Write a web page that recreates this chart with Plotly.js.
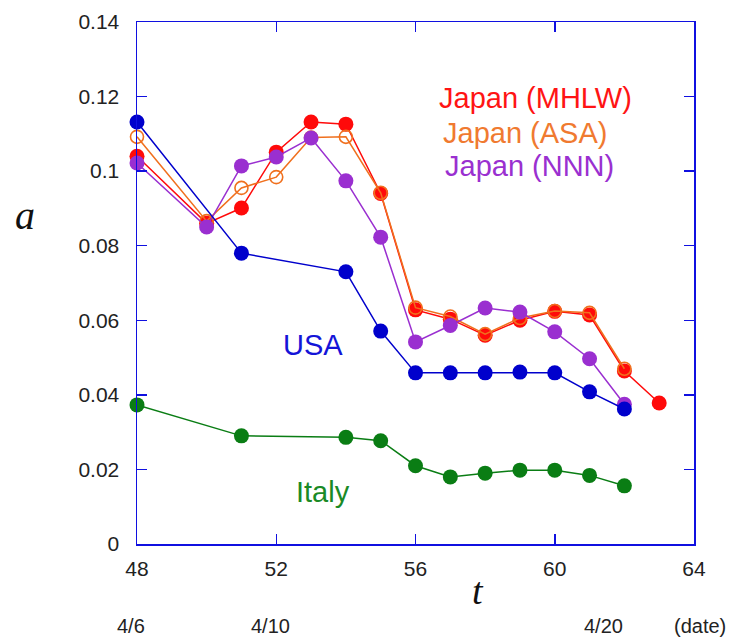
<!DOCTYPE html>
<html>
<head>
<meta charset="utf-8">
<script src="https://cdn.plot.ly/plotly-3.0.1.min.js"></script>
<style>html,body{margin:0;padding:0;background:#fff;} #chart{width:734px;height:639px;}</style>
</head>
<body>
<div id="chart"></div>
<script>
// Data (t = day index, a = value)
const usaT = [48, 51, 54, 55, 56, 57, 58, 59, 60, 61, 62];
const usaA = [0.1132, 0.0780, 0.0730, 0.0571, 0.0459, 0.0459, 0.0459, 0.0461, 0.0459, 0.0408, 0.0362];

const italyT = [48, 51, 54, 55, 56, 57, 58, 59, 60, 61, 62];
const italyA = [0.0373, 0.0290, 0.0286, 0.0277, 0.0210, 0.0180, 0.0190, 0.0198, 0.0198, 0.0184, 0.0156];

const mhlwT = [48, 50, 51, 52, 53, 54, 55, 56, 57, 58, 59, 60, 61, 62, 63];
const mhlwA = [0.1040, 0.0860, 0.0901, 0.1051, 0.1132, 0.1126, 0.0940, 0.0628, 0.0603, 0.0560, 0.0600, 0.0624, 0.0614, 0.0464, 0.0378];

const asaT = [48, 50, 51, 52, 53, 54, 55, 56, 57, 58, 59, 60, 61, 62];
const asaA = [0.1092, 0.0866, 0.0955, 0.0984, 0.1090, 0.1092, 0.0942, 0.0634, 0.0610, 0.0563, 0.0606, 0.0625, 0.0620, 0.0470];

const nnnT = [48, 50, 51, 52, 53, 54, 55, 56, 57, 58, 59, 60, 61, 62];
const nnnA = [0.1022, 0.0850, 0.1014, 0.1038, 0.1089, 0.0974, 0.0823, 0.0542, 0.0586, 0.0633, 0.0622, 0.0569, 0.0497, 0.0375];

const xTicks = [48, 52, 56, 60, 64];
const yTicks = [0, 0.02, 0.04, 0.06, 0.08, 0.1, 0.12, 0.14];
const yTickText = ['0', '0.02', '0.04', '0.06', '0.08', '0.1', '0.12', '0.14'];

const dateLabels = ['4/6', '4/10', '4/20', '(date)'];
const datePos = [-0.011, 0.239, 0.837, 1.011];

const seriesLabels = ['Japan (MHLW)', 'Japan (ASA)', 'Japan (NNN)', 'USA', 'Italy'];

const C = {
  usa: '#0000cc', italy: '#0a7d14', mhlw: '#ff0a0a', asa: '#f0701e', nnn: '#9a2fd0'
};

function tr(x, y, color, open) {
  return {
    x: x, y: y, type: 'scatter', mode: 'lines+markers', cliponaxis: false,
    line: {color: color, width: 1.5},
    marker: open ? {symbol: 'circle-open', size: 13, color: color, line: {width: 1.6, color: color}}
                 : {symbol: 'circle', size: 15, color: color, line: {width: 0}},
    hoverinfo: 'skip'
  };
}

const data = [
  tr(italyT, italyA, C.italy, false),
  tr(mhlwT, mhlwA, C.mhlw, false),
  tr(asaT, asaA, C.asa, true),
  tr(nnnT, nnnA, C.nnn, false),
  tr(usaT, usaA, C.usa, false)
];

const tickFont = {family: 'Liberation Sans, Arial, sans-serif', size: 21, color: '#222'};
const labFont = (c) => ({family: 'Liberation Sans, Arial, sans-serif', size: 29, color: c});

const annotations = [
  {text: seriesLabels[0], x: 0.538, y: 0.854, xanchor: 'left', font: labFont('#ff1414')},
  {text: seriesLabels[1], x: 0.546, y: 0.788, xanchor: 'left', font: labFont('#f07a30')},
  {text: seriesLabels[2], x: 0.550, y: 0.724, xanchor: 'left', font: labFont('#9a30d0')},
  {text: seriesLabels[3], x: 0.316, y: 0.381, xanchor: 'center', font: labFont('#1414d8')},
  {text: seriesLabels[4], x: 0.334, y: 0.100, xanchor: 'center', font: labFont('#1a8a26')},
  {text: '<i>a</i>', x: -0.201, y: 0.630, xanchor: 'center', font: {family: 'Liberation Serif, Times New Roman, serif', size: 40, color: '#111'}},
  {text: '<i>t</i>', x: 0.612, y: -0.090, xanchor: 'center', font: {family: 'Liberation Serif, Times New Roman, serif', size: 38, color: '#111'}}
];
dateLabels.forEach((d, i) => annotations.push({
  text: d, x: datePos[i], y: -0.157, xanchor: 'center', font: {family: 'Liberation Sans, Arial, sans-serif', size: 20, color: '#222'}
}));
annotations.forEach(a => { a.xref = 'paper'; a.yref = 'paper'; a.yanchor = 'middle'; a.showarrow = false; });

const layout = {
  width: 734, height: 639,
  margin: {l: 137, r: 40, t: 22, b: 95},
  paper_bgcolor: '#fff', plot_bgcolor: '#fff',
  showlegend: false,
  xaxis: {
    range: [48, 64], tickvals: xTicks, ticktext: xTicks.map(String),
    showgrid: false, zeroline: false, showline: true, mirror: 'ticks',
    linecolor: '#1010e0', linewidth: 1.5, ticks: 'inside', ticklen: 10, tickwidth: 1.5, tickcolor: '#1010e0',
    tickfont: tickFont, ticklabelstandoff: 5
  },
  yaxis: {
    range: [0, 0.14], tickvals: yTicks, ticktext: yTickText,
    showgrid: false, zeroline: false, showline: true, mirror: 'ticks',
    linecolor: '#1010e0', linewidth: 1.5, ticks: 'inside', ticklen: 10, tickwidth: 1.5, tickcolor: '#1010e0',
    tickfont: tickFont, ticklabelstandoff: 12
  },
  annotations: annotations
};

Plotly.newPlot('chart', data, layout, {staticPlot: true, displayModeBar: false});
</script>
</body>
</html>
